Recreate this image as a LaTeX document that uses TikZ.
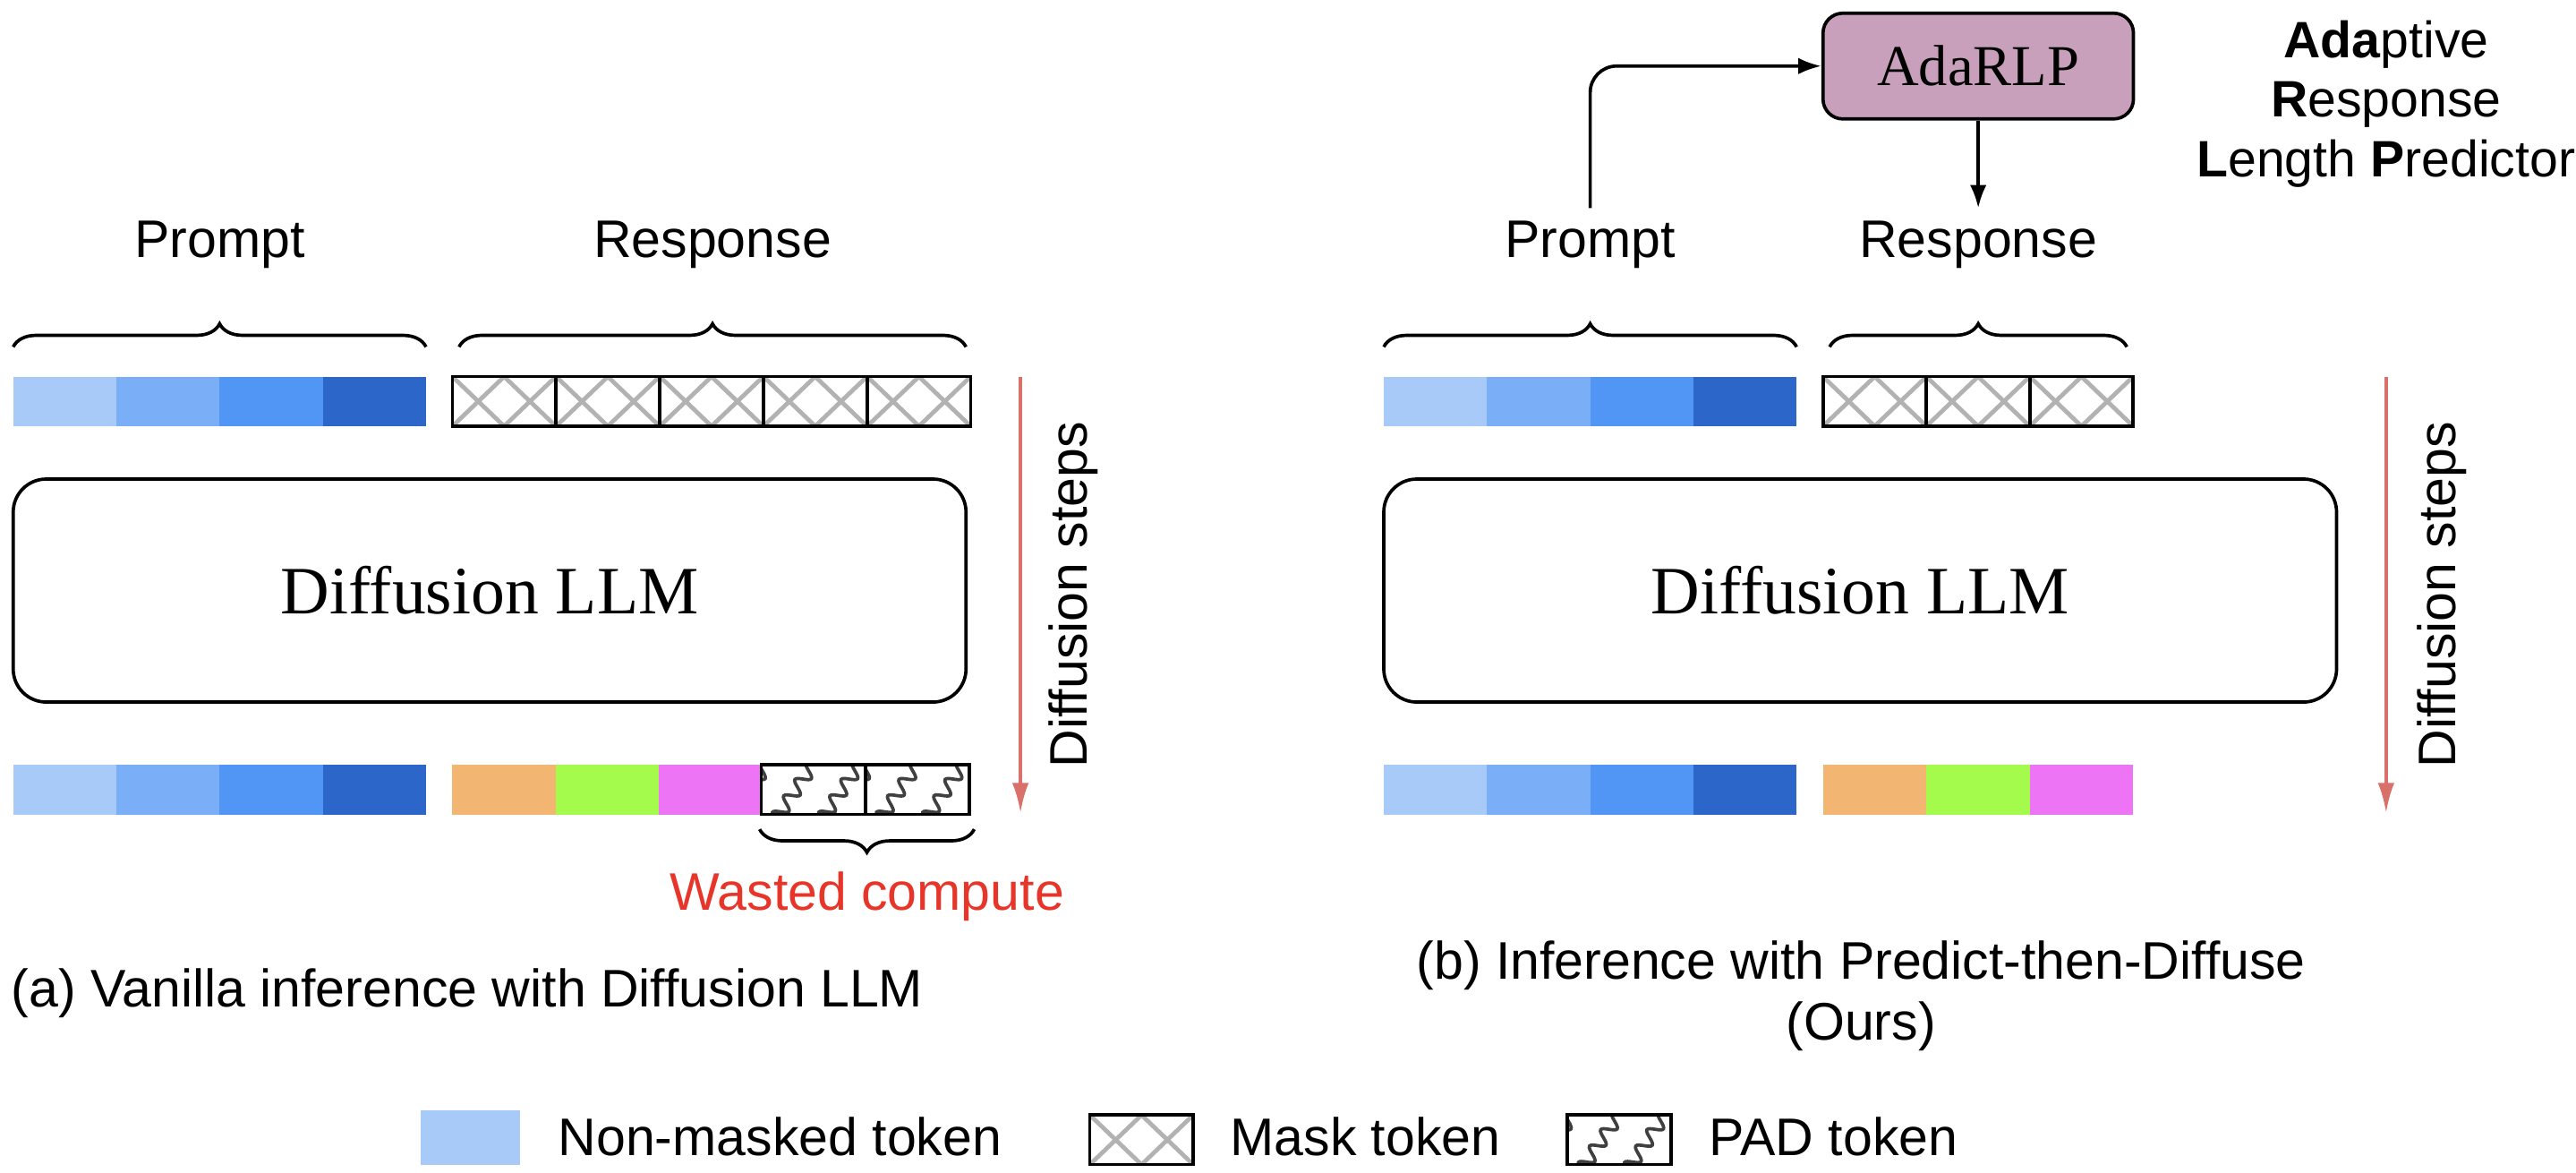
\documentclass[tikz,border=0pt]{standalone}
\usepackage{fontspec}
\setmainfont{Liberation Sans}
\newfontfamily\tnr{Liberation Serif}
\usetikzlibrary{positioning,arrows.meta,decorations.pathreplacing,decorations.pathmorphing}
\definecolor{tokA}{HTML}{A7CAF8}
\definecolor{tokB}{HTML}{7AAEF7}
\definecolor{tokC}{HTML}{5296F5}
\definecolor{tokD}{HTML}{2B66C8}
\definecolor{outA}{HTML}{F2B572}
\definecolor{outB}{HTML}{A4FB4B}
\definecolor{outC}{HTML}{EE74F6}
\definecolor{stepred}{HTML}{D9706A}
\definecolor{wastered}{HTML}{E8352A}
\definecolor{rlp}{HTML}{C9A0BC}
\tikzset{
  lbl/.style={font=\fontsize{16}{18.5}\selectfont},
  llm/.style={draw, line width=1pt, rounded corners=10pt},
  brc/.style={decorate, decoration={brace, amplitude=7pt}, line width=1pt},
  diffarrow/.style={stepred, line width=1pt, -{Latex[length=9pt,width=5pt]}},
}
% one mask cell, lower left corner #1,#2
\newcommand{\maskcell}[2]{
  \begin{scope}
    \clip (#1,#2) rectangle ++(62.6,-30);
    \draw[gray!60, line width=1.3pt] (#1,#2) -- ++(31.3,-30) -- ++(31.3,30)
      (#1,#2-30) -- ++(31.3,30) -- ++(31.3,-30);
  \end{scope}
  \draw[line width=1pt] (#1,#2) rectangle ++(62.6,-30);
}
% one pad cell
\newcommand{\padcell}[2]{
  \begin{scope}
    \clip (#1,#2) rectangle ++(63,-30);
    \foreach \d in {-20,8,36}
      \draw[black!75, line width=1pt, decorate,
        decoration={snake, amplitude=2pt, segment length=6pt}]
        (#1+\d,#2+4) -- ++(26,-38);
  \end{scope}
  \draw[line width=1pt] (#1,#2) rectangle ++(63,-30);
}
\begin{document}
\begin{tikzpicture}[x=0.5pt, y=-0.5pt]
\useasboundingbox (0,0) rectangle (1560,710);

%% (a) vanilla
\foreach \c [count=\i from 0] in {tokA,tokB,tokC,tokD} {
  \fill[\c] (8+62.5*\i,228) rectangle ++(62.5,30);
  \fill[\c] (8+62.5*\i,463) rectangle ++(62.5,30);
}
\foreach \i in {0,...,4} \maskcell{274+62.8*\i}{258};
\foreach \c [count=\i from 0] in {outA,outB,outC}
  \fill[\c] (274+62.6*\i,463) rectangle ++(62.6,30);
\padcell{461}{493} \padcell{524}{493}

\draw[brc] (8,210) -- (258,210) node[midway, above=20pt, lbl] (pa) {Prompt};
\draw[brc] (278,210) -- (585,210) node[midway, above=20pt, lbl] (ra) {Response};
\draw[brc] (590,502) -- (460,502) node[midway, below=9pt, lbl, wastered] (wa) {Wasted compute};

\node[llm, minimum width=577*0.5pt, minimum height=135*0.5pt] (llma) at (296.5,357.5)
  {\tnr\fontsize{20.5}{23}\selectfont Diffusion LLM};

\coordinate (sa) at (618,228);
\coordinate (ea) at (618,492);
\draw[diffarrow] (sa) -- (ea);
\node[lbl, rotate=90] (da) at (650,360) {Diffusion steps};
\node[lbl] (capa) at (283,601) {(a) Vanilla inference with Diffusion LLM};

%% (b) predict-then-diffuse
\foreach \c [count=\i from 0] in {tokA,tokB,tokC,tokD} {
  \fill[\c] (838+62.5*\i,228) rectangle ++(62.5,30);
  \fill[\c] (838+62.5*\i,463) rectangle ++(62.5,30);
}
\foreach \i in {0,...,2} \maskcell{1104+62.6*\i}{258};
\foreach \c [count=\i from 0] in {outA,outB,outC}
  \fill[\c] (1104+62.6*\i,463) rectangle ++(62.6,30);

\draw[brc] (838,210) -- (1088,210) node[midway, above=20pt, lbl] (pb) {Prompt};
\draw[brc] (1108,210) -- (1288,210) node[midway, above=20pt, lbl] (rb) {Response};

\node[draw, line width=1pt, fill=rlp, rounded corners=6pt,
  minimum width=188*0.5pt, minimum height=64*0.5pt] (rlpbox) at (1198,40)
  {\tnr\fontsize{17.5}{20}\selectfont AdaRLP};
\draw[line width=1pt, -{Latex[length=7pt,width=5pt]}, rounded corners=8pt]
  (pb.north) -- (pb.north |- rlpbox.west) -- (rlpbox.west);
\draw[line width=1pt, -{Latex[length=7pt,width=5pt]}]
  (rlpbox.south) -- (rb.north);
\node[align=center, font=\fontsize{15.5}{18}\selectfont] (adaname) at (1445,63)
  {\textbf{Ada}ptive\\[0pt] \textbf{R}esponse\\[0pt] \textbf{L}ength \textbf{P}redictor};

\node[llm, minimum width=577*0.5pt, minimum height=135*0.5pt] (llmb) at (1126.5,357.5)
  {\tnr\fontsize{20.5}{23}\selectfont Diffusion LLM};

\coordinate (sb) at (1445,228);
\coordinate (eb) at (1445,492);
\draw[diffarrow] (sb) -- (eb);
\node[lbl, rotate=90] (db) at (1479,360) {Diffusion steps};
\node[lbl, align=center] (capb) at (1127,603)
  {(b) Inference with Predict-then-Diffuse\\(Ours)};

%% legend
\fill[tokA] (255,672) rectangle (315,705);
\node[lbl, right=8pt of {(315,688)}] (lg1) {Non-masked token};
\maskcell{660}{705}
\node[lbl, right=8pt of {(722,688)}] (lg2) {Mask token};
\padcell{949}{705}
\node[lbl, right=8pt of {(1012,688)}] (lg3) {PAD token};
\end{tikzpicture}
\end{document}
